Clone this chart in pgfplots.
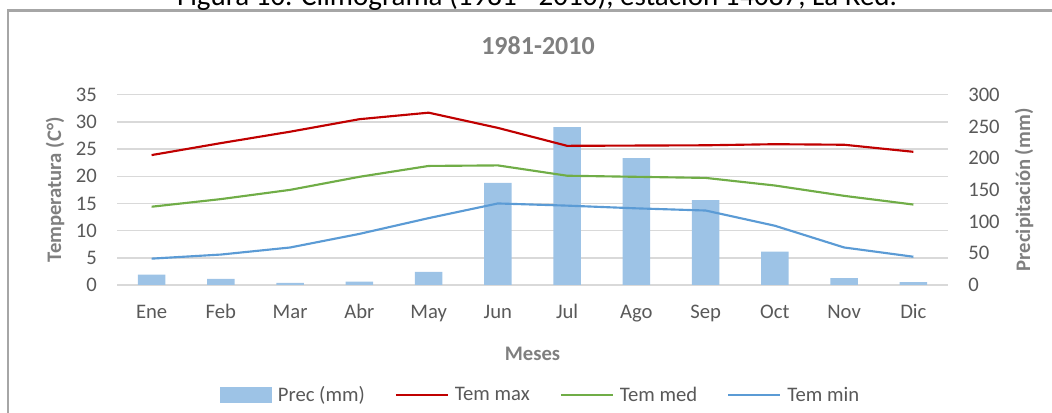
\documentclass[border=0pt]{standalone}
\usepackage{pgfplots}
\pgfplotsset{compat=1.18}
\usepackage{fontspec}
\setmainfont{Carlito}
\definecolor{tickc}{HTML}{595959}
\definecolor{ttl}{HTML}{7F7F7F}
\definecolor{grd}{HTML}{D9D9D9}
\definecolor{cmax}{HTML}{C00000}
\definecolor{cmed}{HTML}{70AD47}
\definecolor{cmin}{HTML}{5B9BD5}
\definecolor{cbar}{HTML}{9DC3E6}
\definecolor{brd}{HTML}{A6A6A6}
\pgfplotsset{
  base/.style={
    at={(87.75pt,96pt)}, anchor=south west, scale only axis,
    width=623.25pt, height=142.7pt, xmin=-0.5, xmax=11.5,
    axis line style={draw=none}, major tick length=0pt,
    /pgf/number format/assume math mode=true,
    tick label style={font=\fontsize{15.5}{18}\selectfont, text=tickc},
  },
  linelegend/.style={legend image code/.code={\draw[##1] (0pt,0pt) -- (39pt,0pt);}},
  barlegend/.style={legend image code/.code={\fill[##1] (0pt,-6pt) rectangle (39pt,6pt);}},
}
\begin{document}
\begin{tikzpicture}
\useasboundingbox (0,0) rectangle (789pt,309.75pt);
\draw[brd, line width=2pt] (6pt,-5pt) -- (6pt,301.9pt) -- (800pt,301.9pt);
\node[anchor=base, inner sep=0pt, font=\fontsize{21.75}{26}\selectfont] at (402.75pt,305.6pt) {Figura 10. Climograma (1981 - 2010), estación 14087, La Red.};
\node[anchor=base, inner sep=0pt, font=\fontsize{19.5}{23}\selectfont\bfseries, text=ttl] at (403.5pt,269pt) {1981-2010};
\node[anchor=base, inner sep=0pt, font=\fontsize{15.5}{18}\selectfont\bfseries, text=ttl] at (399.4pt,39pt) {Meses};
\node[rotate=90, anchor=center, inner sep=0pt, font=\fontsize{15.5}{18}\selectfont\bfseries, text=ttl] at (41.25pt,167.35pt) {Temperatura (C°)};
\node[rotate=90, anchor=center, inner sep=0pt, font=\fontsize{15.5}{18}\selectfont\bfseries, text=ttl] at (768pt,167.35pt) {Precipitación (mm)};

% axis 1: left scale, grid, month labels
\begin{axis}[base, ymin=0, ymax=35, ytick={0,5,...,35},
  xtick={0,...,11}, xticklabels={Ene,Feb,Mar,Abr,May,Jun,Jul,Ago,Sep,Oct,Nov,Dic},
  ymajorgrids, grid style={grd, line width=1.1pt},
  yticklabel style={anchor=east, inner sep=0pt, xshift=-15pt},
  xticklabel style={anchor=base, inner sep=0pt, yshift=-25.5pt}]
\addplot[draw=none] coordinates {(0,0)};
\end{axis}

% axis 2: precipitation bars, right scale
\begin{axis}[base, ymin=0, ymax=300, ytick={0,50,...,300}, yticklabel pos=right,
  xtick=\empty,
  yticklabel style={anchor=west, inner sep=0pt, xshift=15pt}]
\addplot[ybar, bar width=20.5pt, fill=cbar, draw=none] coordinates {
 (0,16.3) (1,9.5) (2,3.2) (3,5.3) (4,20.5) (5,161) (6,249) (7,200) (8,134) (9,52.6) (10,11) (11,4.7)};
\end{axis}

% axis 3: temperature lines, legend
\begin{axis}[base, ymin=0, ymax=35, hide axis,
  legend columns=4,
  legend style={at={(axis description cs:0.5085,-0.58)}, anchor=center, draw=none, fill=none,
    font=\fontsize{15.5}{18}\selectfont, text=tickc, inner sep=0pt,
    nodes={inner sep=0pt, anchor=west},
    /tikz/every odd column/.append style={column sep=4.5pt},
    /tikz/every even column/.append style={column sep=22.5pt}}]
\addlegendimage{barlegend, fill=cbar, draw=none}
\addlegendentry{Prec (mm)}
\addplot[cmax, line width=1.6pt, line join=round, linelegend] coordinates {
 (0,23.9) (1,26.1) (2,28.2) (3,30.5) (4,31.7) (5,28.9) (6,25.6) (7,25.65) (8,25.7) (9,25.9) (10,25.8) (11,24.5)};
\addlegendentry{Tem max}
\addplot[cmed, line width=1.6pt, line join=round, linelegend] coordinates {
 (0,14.4) (1,15.8) (2,17.5) (3,19.9) (4,21.9) (5,22.0) (6,20.1) (7,19.9) (8,19.7) (9,18.3) (10,16.4) (11,14.8)};
\addlegendentry{Tem med}
\addplot[cmin, line width=1.6pt, line join=round, linelegend] coordinates {
 (0,4.85) (1,5.6) (2,6.9) (3,9.4) (4,12.3) (5,15.0) (6,14.6) (7,14.1) (8,13.7) (9,10.9) (10,6.9) (11,5.2)};
\addlegendentry{Tem min}
\end{axis}
\end{tikzpicture}
\end{document}
